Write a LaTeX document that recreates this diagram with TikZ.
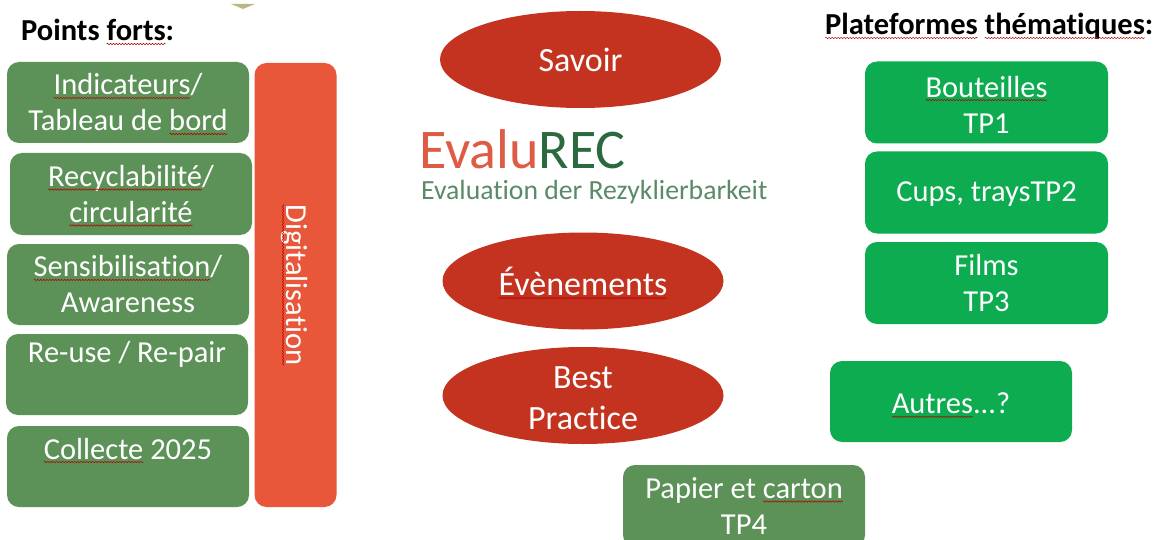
\documentclass[tikz,border=0pt]{standalone}
\usepackage{fontspec}
\setmainfont{Carlito}[Ligatures=NoCommon]
\usetikzlibrary{shapes.geometric,decorations.pathmorphing}
\definecolor{leaf}{HTML}{5C9157}
\definecolor{bright}{HTML}{0DAC50}
\definecolor{brick}{HTML}{C43320}
\definecolor{coral}{HTML}{E9573A}
\definecolor{logored}{HTML}{DE5B45}
\definecolor{logogreen}{HTML}{2B6A3E}
\definecolor{subgreen}{HTML}{5A8A68}
\newlength{\wvlen}
\newcommand{\wv}[1]{\setbox0=\hbox{#1}\setlength{\wvlen}{\wd0}\leavevmode\rlap{\box0}\tikz[baseline=0pt,x=1pt,y=1pt,sharp corners]{\useasboundingbox (0,0) rectangle (\wvlen,0);\draw[sharp corners,red!70!black,line width=.5pt,decorate,decoration={snake,amplitude=.7pt,segment length=3pt}] (0,-3) -- (\wvlen,-3);}}
\tikzset{
 pane/.style={draw=none,rounded corners=12pt,text=white,font=\fontsize{30.5}{36}\selectfont,align=center,inner sep=0pt},
 leafbox/.style={pane,fill=leaf},
 brightbox/.style={pane,fill=bright},
 oval/.style={ellipse,fill=brick,text=white,font=\fontsize{34}{41}\selectfont,align=center,inner sep=0pt},
 ovaltxt/.style={inner sep=0pt,text=white,font=\fontsize{34}{41}\selectfont,align=center,anchor=center},
 head/.style={font=\fontsize{30.5}{34}\selectfont\bfseries,text=black,inner sep=0pt,anchor=base west},
 txt/.style={inner sep=0pt,text=white,font=\fontsize{30.5}{36}\selectfont,align=center,anchor=base},
 midtxt/.style={txt,anchor=center}
}
\begin{document}
\begin{tikzpicture}[x=1pt,y=-1pt]
\useasboundingbox (0,0) rectangle (1158,540);
\fill[white] (0,0) rectangle (1158,540);
\fill[black!35!olive!45] (231,4) -- (255,4) -- (243,9) -- cycle;
\node[head] (h1) at (21,41) {Points \wv{forts}:};
\node[head] (h2) at (825,35) {\wv{Plateformes} \wv{thématiques}:};
% left column
\node[leafbox,minimum width=242pt,minimum height=81pt] (a) at (128,102.5) {\wv{Indicateurs}/\\Tableau de \wv{bord}};
\node[leafbox,minimum width=242pt,minimum height=82pt] (b) at (131,194) {\wv{Recyclabilité}/\\\wv{circularité}};
\node[leafbox,minimum width=242pt,minimum height=81pt] (c) at (128,284.5) {\wv{Sensibilisation}/\\Awareness};
\node[leafbox,minimum width=242pt,minimum height=81pt] (d) at (127,374.5) {};
\node[txt] (dt) at (127,362) {Re-use / Re-pair};
\node[leafbox,minimum width=242pt,minimum height=81pt] (e) at (128,466.5) {};
\node[txt] (et) at (128,459) {\wv{Collecte} 2025};
\node[pane,fill=coral,minimum width=82pt,minimum height=444pt] (f) at (295.5,285) {};
\node[txt,rotate=-90,anchor=center] (ft) at (294,285) {\wv{Digitalisation}};
% ovals
\node[oval,minimum width=281pt,minimum height=97pt] (s) at (580.5,59.5) {Savoir};
\node[oval,minimum width=281pt,minimum height=97pt] (v) at (583,281) {\wv{Évènements}};
\node[oval,minimum width=281pt,minimum height=97pt] (p) at (583,395.5) {};
\node[ovaltxt] (pt) at (583,398) {Best\\Practice};
% logo
\node[inner sep=0pt,anchor=base west,font=\fontsize{56}{60}\selectfont] (l1) at (419,168) {\textcolor{logored}{Evalu}\textcolor{logogreen}{REC}};
\node[inner sep=0pt,anchor=base west,font=\fontsize{27.7}{30}\selectfont,text=subgreen] (l2) at (421,200) {Evaluation der Rezyklierbarkeit};
% right column
\node[brightbox,minimum width=243pt,minimum height=82pt] (r1) at (986.5,102.5) {};
\node[midtxt] (r1t) at (986.5,104.5) {\wv{Bouteilles}\\TP1};
\node[brightbox,minimum width=243pt,minimum height=82pt] (r2) at (986.5,192.5) {};
\node[midtxt] (r2t) at (986.5,194.5) {Cups, traysTP2};
\node[brightbox,minimum width=243pt,minimum height=82pt] (r3) at (986.5,283) {};
\node[midtxt] (r3t) at (986.5,283.5) {Films\\TP3};
\node[brightbox,minimum width=242pt,minimum height=81pt] (r4) at (951,401.5) {};
\node[midtxt] (r4t) at (951,403.5) {\wv{Autres}...?};
\node[leafbox,minimum width=242pt,minimum height=82pt] (r5) at (744,506) {Papier et \wv{carton}\\TP4};
\end{tikzpicture}
\end{document}
